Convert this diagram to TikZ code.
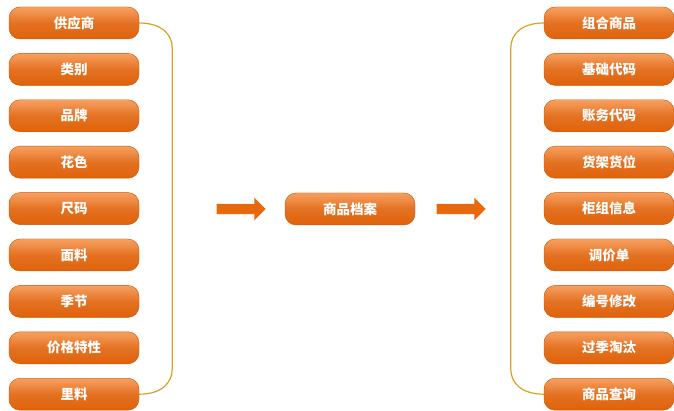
\documentclass[tikz,border=0pt]{standalone}
\usepackage{fontspec}
\newfontfamily\cjk{Noto Sans CJK SC}
\usetikzlibrary{positioning,shapes.arrows,calc}
\definecolor{boxtop}{HTML}{F7A060}
\definecolor{boxbot}{HTML}{E0620A}
\definecolor{boxline}{HTML}{C85508}
\definecolor{arrowfill}{HTML}{E8680E}
\definecolor{braceline}{HTML}{D9A21E}

\begin{document}
\begin{tikzpicture}[
    x=1pt, y=-1pt,
    font=\cjk\bfseries\fontsize{13.5}{15}\selectfont,
    % styles
    item/.style={draw=boxline, rounded corners=11pt, minimum width=130pt, minimum height=32pt,
        top color=boxtop, bottom color=boxbot, middle color=boxbot!90!white, text=white, inner sep=0pt},
    bigarrow/.style={single arrow, fill=arrowfill, minimum height=49pt, inner sep=5pt,
        single arrow head extend=6pt, single arrow tip angle=90},
    brace/.style={draw=braceline, line width=1.2pt},
    node distance=14pt
]
    \useasboundingbox (0,0) rectangle (674,411);

    % --- left column ---
    \node[item] (l1) at (74,23) {供应商};
    \node[item, below=of l1] (l2) {类别};
    \node[item, below=of l2] (l3) {品牌};
    \node[item, below=of l3] (l4) {花色};
    \node[item, below=of l4] (l5) {尺码};
    \node[item, below=of l5] (l6) {面料};
    \node[item, below=of l6] (l7) {季节};
    \node[item, below=of l7] (l8) {价格特性};
    \node[item, below=of l8] (l9) {里料};

    % --- right column ---
    \node[item] (r1) at (609,23) {组合商品};
    \node[item, below=of r1] (r2) {基础代码};
    \node[item, below=of r2] (r3) {账务代码};
    \node[item, below=of r3] (r4) {货架货位};
    \node[item, below=of r4] (r5) {柜组信息};
    \node[item, below=of r5] (r6) {调价单};
    \node[item, below=of r6] (r7) {编号修改};
    \node[item, below=of r7] (r8) {过季淘汰};
    \node[item, below=of r8] (r9) {商品查询};

    % --- center ---
    \node[item] (archive) at (350,209) {商品档案};
    \node[bigarrow] (arrowin) at (238.5,209) {};
    \node[bigarrow] (arrowout) at (458.5,209) {};

    % --- brackets ---
    \coordinate (lt) at ($(l1.east)+(33,25)$);
    \coordinate (lb) at ($(l9.east)+(33,-25)$);
    \draw[brace] (l1.east) .. controls +(22,0) and +(0,-14) .. (lt) -- (lb)
        .. controls +(0,14) and +(22,0) .. (l9.east);
    \coordinate (rt) at ($(r1.west)+(-33,25)$);
    \coordinate (rb) at ($(r9.west)+(-33,-25)$);
    \draw[brace] (r1.west) .. controls +(-22,0) and +(0,-14) .. (rt) -- (rb)
        .. controls +(0,14) and +(-22,0) .. (r9.west);

\end{tikzpicture}
\end{document}
